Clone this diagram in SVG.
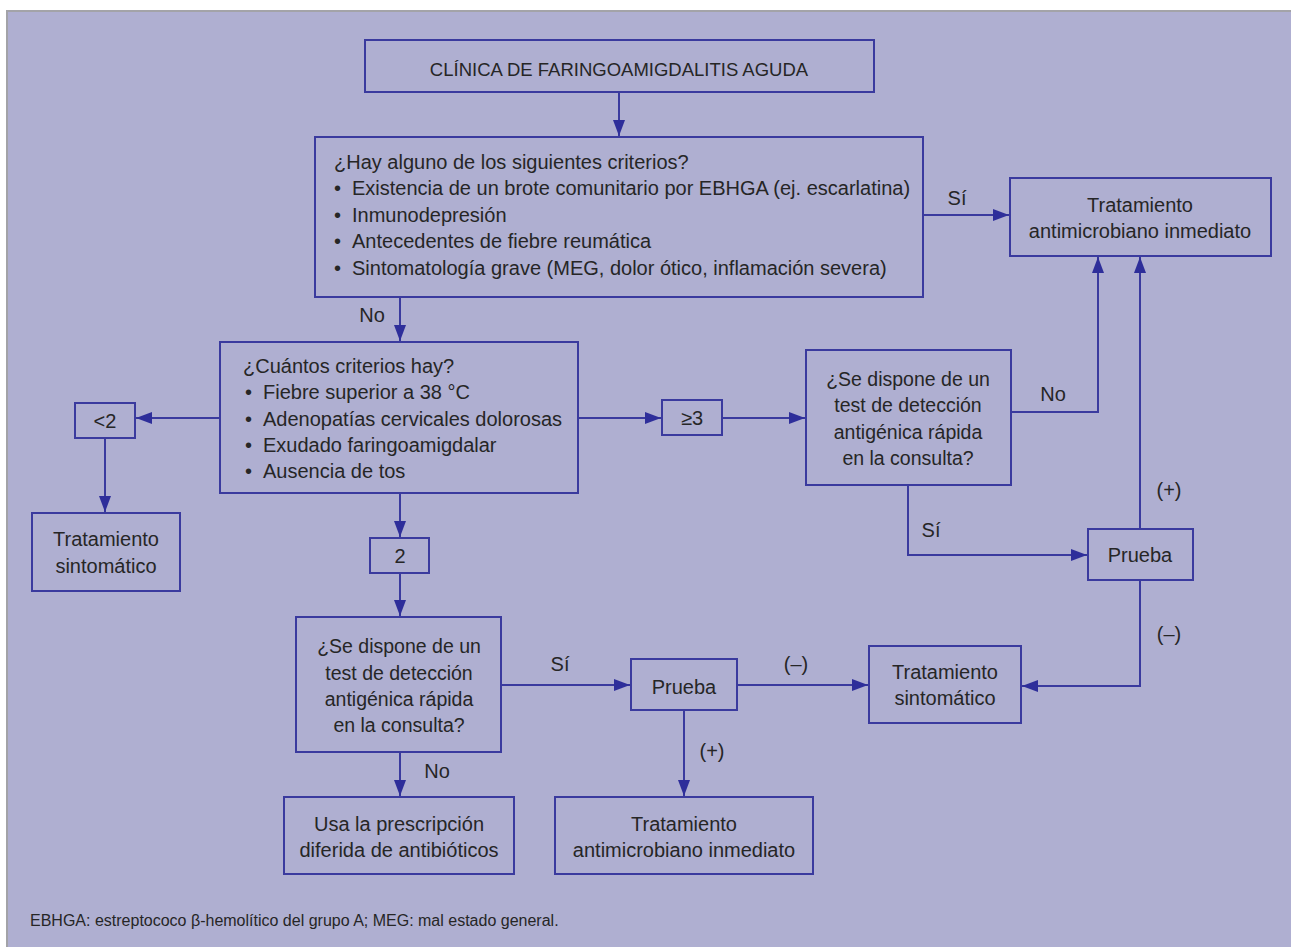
<svg xmlns="http://www.w3.org/2000/svg" width="1291" height="947" viewBox="0 0 1291 947">
<defs>
<style>
.bx{fill:none;stroke:#3a3a9e;stroke-width:2}
.ln{fill:none;stroke:#3a3a9e;stroke-width:2}
text{font-family:"Liberation Sans",Arial,sans-serif;font-size:20px;fill:#262626}
.c{text-anchor:middle}
.t{font-size:19.5px}
.h{font-size:18.5px}
.fn{font-size:16px}
</style>
<marker id="ah" viewBox="0 0 16 12" refX="16" refY="6" markerWidth="16" markerHeight="12" markerUnits="userSpaceOnUse" orient="auto">
<path d="M0,0 L16,6 L0,12 Z" fill="#2e2e9a"/>
</marker>
</defs>
<rect x="0" y="0" width="1291" height="947" fill="#ffffff"/>
<rect x="7" y="11" width="1290" height="940" fill="#afafd1" stroke="#a3a3a8" stroke-width="2"/>

<g id="connectors">
<line class="ln" x1="619" y1="92" x2="619" y2="136" marker-end="url(#ah)"/>
<line class="ln" x1="923" y1="215" x2="1009" y2="215" marker-end="url(#ah)"/>
<line class="ln" x1="400" y1="297" x2="400" y2="341" marker-end="url(#ah)"/>
<line class="ln" x1="220" y1="418" x2="136" y2="418" marker-end="url(#ah)"/>
<line class="ln" x1="105" y1="438" x2="105" y2="512" marker-end="url(#ah)"/>
<line class="ln" x1="578" y1="418" x2="661" y2="418" marker-end="url(#ah)"/>
<line class="ln" x1="722" y1="418" x2="805" y2="418" marker-end="url(#ah)"/>
<polyline class="ln" points="1011,412 1098,412 1098,257" marker-end="url(#ah)"/>
<polyline class="ln" points="908,485 908,555 1087,555" marker-end="url(#ah)"/>
<line class="ln" x1="1140" y1="529" x2="1140" y2="257" marker-end="url(#ah)"/>
<polyline class="ln" points="1140,580 1140,686 1022,686" marker-end="url(#ah)"/>
<line class="ln" x1="400" y1="493" x2="400" y2="537" marker-end="url(#ah)"/>
<line class="ln" x1="400" y1="573" x2="400" y2="616" marker-end="url(#ah)"/>
<line class="ln" x1="501" y1="685" x2="630" y2="685" marker-end="url(#ah)"/>
<line class="ln" x1="737" y1="685" x2="868" y2="685" marker-end="url(#ah)"/>
<line class="ln" x1="684" y1="710" x2="684" y2="796" marker-end="url(#ah)"/>
<line class="ln" x1="400" y1="752" x2="400" y2="796" marker-end="url(#ah)"/>
<text x="957" y="205" class="c">Sí</text>
<text x="372" y="322" class="c">No</text>
<text x="1053" y="401" class="c">No</text>
<text x="931" y="537" class="c">Sí</text>
<text x="1169" y="497" class="c">(+)</text>
<text x="1169" y="641" class="c">(–)</text>
<text x="560" y="671" class="c">Sí</text>
<text x="796" y="671" class="c">(–)</text>
<text x="712" y="758" class="c">(+)</text>
<text x="437" y="778" class="c">No</text>
</g>

<g id="n-clinica">
<rect class="bx" x="365" y="40" width="509" height="52"/>
<text x="619" y="76" class="c h">CLÍNICA DE FARINGOAMIGDALITIS AGUDA</text>
</g>

<g id="n-criterios1">
<rect class="bx" x="315" y="137" width="608" height="160"/>
<text x="334" y="169">¿Hay alguno de los siguientes criterios?</text>
<text x="334" y="195">•</text><text x="352" y="195">Existencia de un brote comunitario por EBHGA (ej. escarlatina)</text>
<text x="334" y="222">•</text><text x="352" y="222">Inmunodepresión</text>
<text x="334" y="248">•</text><text x="352" y="248">Antecedentes de fiebre reumática</text>
<text x="334" y="275">•</text><text x="352" y="275">Sintomatología grave (MEG, dolor ótico, inflamación severa)</text>
</g>

<g id="n-tto-anti-1">
<rect class="bx" x="1010" y="178" width="261" height="78"/>
<text x="1140" y="212" class="c">Tratamiento</text>
<text x="1140" y="238" class="c">antimicrobiano inmediato</text>
</g>

<g id="n-criterios2">
<rect class="bx" x="220" y="342" width="358" height="151"/>
<text x="243" y="373">¿Cuántos criterios hay?</text>
<text x="245" y="399">•</text><text x="263" y="399">Fiebre superior a 38 °C</text>
<text x="245" y="426">•</text><text x="263" y="426">Adenopatías cervicales dolorosas</text>
<text x="245" y="452">•</text><text x="263" y="452">Exudado faringoamigdalar</text>
<text x="245" y="478">•</text><text x="263" y="478">Ausencia de tos</text>
</g>

<g id="n-menos2">
<rect class="bx" x="75" y="403" width="60" height="35"/>
<text x="105" y="428" class="c">&lt;2</text>
</g>

<g id="n-tto-sint-1">
<rect class="bx" x="32" y="513" width="148" height="78"/>
<text x="106" y="546" class="c">Tratamiento</text>
<text x="106" y="573" class="c">sintomático</text>
</g>

<g id="n-mayor3">
<rect class="bx" x="662" y="400" width="60" height="35"/>
<text x="692" y="425" class="c">≥3</text>
</g>

<g id="n-test1">
<rect class="bx" x="806" y="350" width="205" height="135"/>
<text x="908" y="386" class="c t">¿Se dispone de un</text>
<text x="908" y="412" class="c t">test de detección</text>
<text x="908" y="439" class="c t">antigénica rápida</text>
<text x="908" y="465" class="c t">en la consulta?</text>
</g>

<g id="n-prueba1">
<rect class="bx" x="1088" y="529" width="105" height="51"/>
<text x="1140" y="562" class="c">Prueba</text>
</g>

<g id="n-tto-sint-2">
<rect class="bx" x="869" y="646" width="152" height="77"/>
<text x="945" y="679" class="c">Tratamiento</text>
<text x="945" y="705" class="c">sintomático</text>
</g>

<g id="n-dos">
<rect class="bx" x="370" y="538" width="59" height="35"/>
<text x="400" y="563" class="c">2</text>
</g>

<g id="n-test2">
<rect class="bx" x="296" y="617" width="205" height="135"/>
<text x="399" y="653" class="c t">¿Se dispone de un</text>
<text x="399" y="680" class="c t">test de detección</text>
<text x="399" y="706" class="c t">antigénica rápida</text>
<text x="399" y="732" class="c t">en la consulta?</text>
</g>

<g id="n-prueba2">
<rect class="bx" x="631" y="659" width="106" height="51"/>
<text x="684" y="694" class="c">Prueba</text>
</g>

<g id="n-diferida">
<rect class="bx" x="284" y="797" width="230" height="77"/>
<text x="399" y="831" class="c">Usa la prescripción</text>
<text x="399" y="857" class="c">diferida de antibióticos</text>
</g>

<g id="n-tto-anti-2">
<rect class="bx" x="555" y="797" width="258" height="77"/>
<text x="684" y="831" class="c">Tratamiento</text>
<text x="684" y="857" class="c">antimicrobiano inmediato</text>
</g>

<g id="footnote">
<text x="30" y="926" class="fn">EBHGA: estreptococo β-hemolítico del grupo A; MEG: mal estado general.</text>
</g>
</svg>
